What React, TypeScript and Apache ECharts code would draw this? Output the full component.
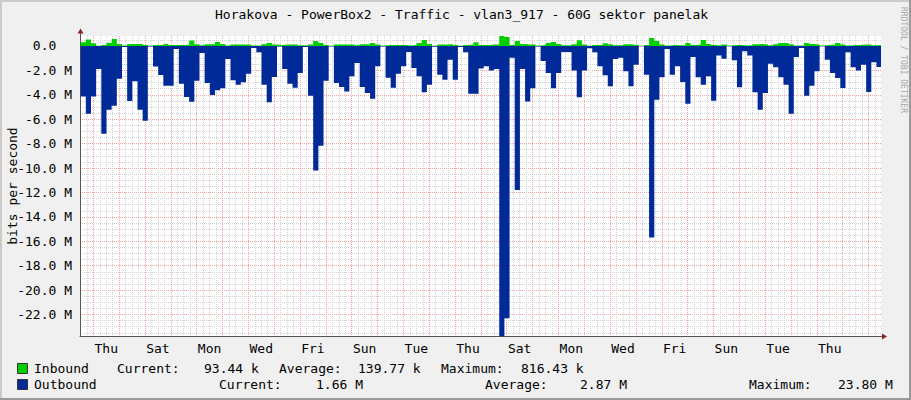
import React, { useEffect, useRef } from 'react';
import * as echarts from 'echarts';

// ---------- data ----------
const TITLE = 'Horakova - PowerBox2 - Traffic - vlan3_917 - 60G sektor panelak';
const Y_AXIS_NAME = 'bits per second';
const WATERMARK = 'RRDTOOL / TOBI OETIKER';
const DAY_NAMES = ['Thu', 'Fri', 'Sat', 'Sun', 'Mon', 'Tue', 'Wed'];

// time axis in days, relative to the first Thursday 00:00
const X_START_DAY = -0.515;
const X_END_DAY = 30.485;
const SAMPLE_START_DAY = -0.49;
const SAMPLE_STEP_DAY = 0.2;

// inbound traffic, Mbit/s
const inboundMbps = [
  0.3, 0.52, 0.22, 0.02, 0.08, 0.27, 0.57, 0.16, 0.03, 0.16,
  0.16, 0.16, 0.08, 0.02, 0.08, 0.08, 0.16, 0.08, 0.08, 0.08,
  0.1, 0.44, 0.14, 0.05, 0.14, 0.14, 0.33, 0.16, 0.03, 0.11,
  0.11, 0.11, 0.11, 0.03, 0.03, 0.14, 0.25, 0.11, 0.08, 0.11,
  0.11, 0.11, 0.05, 0.03, 0.11, 0.41, 0.25, 0.08, 0.01, 0.11,
  0.11, 0.11, 0.11, 0.05, 0.14, 0.14, 0.25, 0.11, 0.03, 0.08,
  0.08, 0.08, 0.08, 0.03, 0.08, 0.25, 0.49, 0.16, 0.02, 0.11,
  0.11, 0.16, 0.08, 0.01, 0.08, 0.11, 0.3, 0.08, 0.08, 0.11,
  0.11, 0.8164, 0.74, 0.08, 0.41, 0.16, 0.11, 0.11, 0.03, 0.08,
  0.25, 0.33, 0.16, 0.05, 0.05, 0.14, 0.46, 0.11, 0.01, 0.08,
  0.08, 0.22, 0.14, 0.05, 0.05, 0.14, 0.14, 0.08, 0.01, 0.08,
  0.66, 0.41, 0.11, 0.03, 0.08, 0.05, 0.05, 0.25, 0.08, 0.11,
  0.49, 0.16, 0.08, 0.03, 0.11, 0.03, 0.08, 0.08, 0.03, 0.05,
  0.14, 0.16, 0.11, 0.05, 0.14, 0.25, 0.25, 0.14, 0.03, 0.03,
  0.25, 0.16, 0.11, 0.03, 0.08, 0.11, 0.25, 0.11, 0.03, 0.08,
  0.08, 0.11, 0.11, 0.05, 0.08,
];

// outbound traffic, Mbit/s (drawn below zero)
const outboundMbps = [
  4.13, 5.55, 4.13, 1.89, 7.19, 5.22, 4.89, 2.68, 0.08, 4.5,
  2.9, 5.22, 6.12, 0.05, 1.69, 2.38, 3.25, 3.25, 0.25, 3.09,
  4.18, 4.56, 2.84, 0.57, 3.03, 4.02, 3.63, 3.47, 1.07, 2.81,
  3.17, 2.98, 2.27, 0.16, 0.52, 3.17, 4.62, 2.54, 0.05, 1.89,
  3.09, 3.42, 2.21, 0.08, 4.07, 10.2, 8.17, 2.84, 0.05, 3.03,
  3.36, 3.74, 2.49, 1.39, 3.36, 3.85, 4.32, 1.67, 0.05, 2.6,
  3.42, 2.27, 1.67, 0.49, 1.8, 2.49, 3.8, 3.17, 0.07, 2.35,
  2.76, 1.12, 2.76, 0.08, 0.52, 3.91, 3.91, 1.85, 1.67, 2.0,
  1.89, 23.8, 22.3, 0.96, 11.8, 1.89, 4.54, 3.47, 0.05, 1.23,
  2.21, 3.47, 2.21, 0.49, 0.49, 2.0, 4.2, 2.0, 0.19, 0.52,
  1.67, 2.4, 3.3, 1.07, 0.96, 2.08, 3.3, 1.53, 0.03, 2.35,
  15.7, 4.4, 2.57, 0.25, 2.35, 1.67, 2.95, 4.73, 0.9, 2.57,
  3.17, 2.49, 4.48, 0.79, 1.04, 0.03, 1.17, 3.39, 0.44, 0.79,
  3.8, 5.22, 3.85, 1.45, 1.75, 2.57, 3.17, 5.55, 0.9, 0.16,
  4.07, 3.25, 2.08, 0.03, 1.12, 2.21, 2.62, 3.44, 0.52, 1.75,
  2.0, 1.53, 3.77, 1.34, 1.72,
];

const legendInboundTexts = ['Inbound', 'Current:', '93.44 k', 'Average:', '139.77 k', 'Maximum:', '816.43 k'];
const legendOutboundTexts = ['Outbound', 'Current:', '1.66 M', 'Average:', '2.87 M', 'Maximum:', '23.80 M'];

// ---------- helpers ----------
const MONO = '"DejaVu Sans Mono", "Liberation Mono", monospace';
const INBOUND_COLOR = '#00CF00';
const OUTBOUND_COLOR = '#002A97';

function toSteps(values: number[], sign: number) {
  const pts: number[][] = values.map((v, k) => [SAMPLE_START_DAY + k * SAMPLE_STEP_DAY, sign * v]);
  pts.push([SAMPLE_START_DAY + values.length * SAMPLE_STEP_DAY, sign * values[values.length - 1]]);
  return pts;
}

export default function App() {
  const ref = useRef<HTMLDivElement>(null);

  useEffect(() => {
    if (!ref.current) return;
    const chart = echarts.init(ref.current, undefined, { renderer: 'svg' });

    const yMax = Math.max(...inboundMbps);
    const yMin = -Math.max(...outboundMbps);

    const inX = [34, 117, 204, 279, 358, 441, 521];
    const outX = [34, 219, 316, 485, 580, 749, 838];

    const textEl = (text: string, x: number, y: number, extra: any = {}) => ({
      type: 'text',
      x,
      y,
      silent: true,
      style: {
        text,
        fill: '#000',
        font: `13px ${MONO}`,
        textAlign: 'left',
        textVerticalAlign: 'middle',
        ...extra,
      },
    });

    const graphic: any[] = [
      { type: 'rect', shape: { x: 0, y: 0, width: 911, height: 2 }, style: { fill: '#CBCBCB' }, silent: true },
      { type: 'rect', shape: { x: 0, y: 0, width: 2, height: 400 }, style: { fill: '#CBCBCB' }, silent: true },
      { type: 'rect', shape: { x: 909, y: 0, width: 2, height: 400 }, style: { fill: '#999999' }, silent: true },
      { type: 'rect', shape: { x: 0, y: 398, width: 911, height: 2 }, style: { fill: '#999999' }, silent: true },
      textEl(TITLE, 215, 14.5),
      {
        type: 'text',
        x: 12,
        y: 186,
        rotation: Math.PI / 2,
        silent: true,
        style: { text: Y_AXIS_NAME, fill: '#000', font: `13px ${MONO}`, textAlign: 'center', textVerticalAlign: 'middle' },
      },
      {
        type: 'text',
        x: 903,
        y: 60,
        rotation: -Math.PI / 2,
        silent: true,
        style: { text: WATERMARK, fill: '#A8A8A8', font: `8px ${MONO}`, textAlign: 'center', textVerticalAlign: 'middle' },
      },
      // axis extensions and arrows
      { type: 'line', shape: { x1: 80.5, y1: 36, x2: 80.5, y2: 31 }, style: { stroke: '#555', lineWidth: 1 }, silent: true },
      { type: 'polygon', shape: { points: [[77.5, 33.5], [83.5, 33.5], [80.5, 28.5]] }, style: { fill: '#902020' }, silent: true },
      { type: 'line', shape: { x1: 881, y1: 336.5, x2: 884, y2: 336.5 }, style: { stroke: '#555', lineWidth: 1 }, silent: true },
      { type: 'polygon', shape: { points: [[882, 333.5], [882, 339.5], [887, 336.5]] }, style: { fill: '#902020' }, silent: true },
      // legend swatches
      { type: 'rect', shape: { x: 17.5, y: 363.5, width: 10, height: 10 }, style: { fill: INBOUND_COLOR, stroke: '#333', lineWidth: 1 }, silent: true },
      { type: 'rect', shape: { x: 17.5, y: 379.5, width: 10, height: 10 }, style: { fill: OUTBOUND_COLOR, stroke: '#333', lineWidth: 1 }, silent: true },
      ...legendInboundTexts.map((t, i) => textEl(t, inX[i], 368.5)),
      ...legendOutboundTexts.map((t, i) => textEl(t, outX[i], 384.5)),
    ];

    const option: any = {
      animation: false,
      backgroundColor: '#F0F0F0',
      grid: {
        left: 80,
        top: 36,
        width: 801,
        height: 300.5,
        show: true,
        backgroundColor: '#FFFFFF',
        borderWidth: 0,
      },
      xAxis: [
        {
          type: 'value',
          min: X_START_DAY,
          max: X_END_DAY,
          splitNumber: 31,
          axisLine: { show: true, onZero: false, lineStyle: { color: '#555', width: 1 } },
          axisTick: { show: false },
          axisLabel: { show: false },
          splitLine: {
            show: true,
            showMinLine: false,
            showMaxLine: false,
            lineStyle: { color: '#F2A0A0', type: [1, 1], width: 1 },
          },
          minorTick: { show: false, splitNumber: 4 },
          minorSplitLine: { show: true, lineStyle: { color: '#D4D4D4', type: [1, 1], width: 1 } },
        },
        {
          type: 'value',
          min: X_START_DAY - 0.5,
          max: X_END_DAY - 0.5,
          splitNumber: 31,
          position: 'bottom',
          axisLine: { show: false, onZero: false },
          axisTick: { show: false },
          splitLine: { show: false },
          axisLabel: {
            show: true,
            showMinLabel: false,
            showMaxLabel: false,
            margin: 5,
            color: '#000',
            fontFamily: MONO,
            fontSize: 13,
            formatter: (v: number) => {
              const d = Math.round(v);
              if (d < 0 || d % 2 !== 0) return '';
              return DAY_NAMES[d % 7];
            },
          },
        },
      ],
      yAxis: {
        type: 'value',
        min: yMin,
        max: yMax,
        splitNumber: 12,
        axisLine: { show: true, onZero: false, lineStyle: { color: '#555', width: 1 } },
        axisTick: { show: false },
        axisLabel: {
          showMinLabel: false,
          showMaxLabel: false,
          margin: 8,
          color: '#000',
          fontFamily: MONO,
          fontSize: 13,
          formatter: (v: number) => {
            if (Math.abs(v) < 1e-9) return '0.0\u00a0\u00a0';
            return v.toFixed(1) + ' M';
          },
        },
        splitLine: {
          show: true,
          showMinLine: false,
          showMaxLine: false,
          lineStyle: { color: '#F2A0A0', type: [1, 1], width: 1 },
        },
        minorTick: { show: false, splitNumber: 4 },
        minorSplitLine: { show: true, lineStyle: { color: '#D4D4D4', type: [1, 1], width: 1 } },
      },
      series: [
        {
          name: 'Outbound',
          type: 'line',
          xAxisIndex: 0,
          yAxisIndex: 0,
          step: 'end',
          symbol: 'none',
          silent: true,
          lineStyle: { width: 0, opacity: 0 },
          areaStyle: { color: OUTBOUND_COLOR, opacity: 1 },
          data: toSteps(outboundMbps, -1),
          z: 3,
        },
        {
          name: 'Inbound',
          type: 'line',
          xAxisIndex: 0,
          yAxisIndex: 0,
          step: 'end',
          symbol: 'none',
          silent: true,
          lineStyle: { width: 0, opacity: 0 },
          areaStyle: { color: INBOUND_COLOR, opacity: 1 },
          data: toSteps(inboundMbps, 1),
          z: 3,
        },
      ],
      graphic,
    };

    chart.setOption(option);
    return () => chart.dispose();
  }, []);

  return (
    <div
      ref={ref}
      style={{ position: 'fixed', left: 0, top: 0, width: 911, height: 400 }}
    />
  );
}
